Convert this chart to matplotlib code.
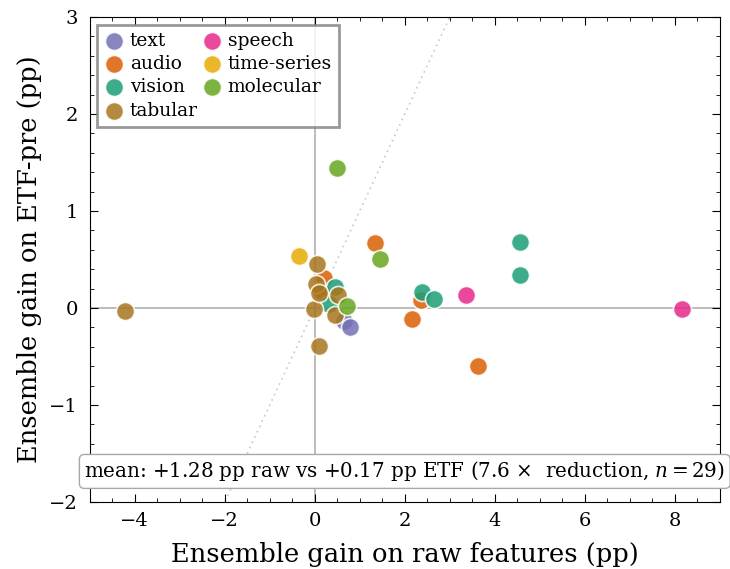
import matplotlib
matplotlib.use("Agg")
import matplotlib.pyplot as plt
from matplotlib.ticker import AutoMinorLocator

# modality of each (raw gain, ETF-pre gain) pair
modalities = ["text", "audio", "vision", "tabular", "speech", "time-series", "molecular"]
colors = {"text": "#7570b3", "audio": "#d95f02", "vision": "#1b9e77", "tabular": "#a6761d",
          "speech": "#e7298a", "time-series": "#e6ab02", "molecular": "#66a61e"}

raw = {
    "text": [0.65, 0.79, 0.15],
    "audio": [1.34, 0.20, 0.13, 3.62, 2.16, 2.36],
    "vision": [0.45, 0.31, 4.56, 4.56, 2.38, 2.66],
    "tabular": [-4.22, 0.04, 0.02, 0.52, -0.02, 0.45, 0.10, 0.10],
    "speech": [3.35, 8.15],
    "time-series": [-0.36],
    "molecular": [0.49, 1.46, 0.71],
}
etf = {
    "text": [-0.13, -0.20, 0.20],
    "audio": [0.67, 0.31, 0.17, -0.60, -0.11, 0.08],
    "vision": [0.22, 0.04, 0.68, 0.34, 0.16, 0.09],
    "tabular": [-0.03, 0.45, 0.25, 0.13, -0.01, -0.07, -0.39, 0.15],
    "speech": [0.13, -0.01],
    "time-series": [0.54],
    "molecular": [1.44, 0.50, 0.02],
}

plt.rcParams["font.family"] = "DejaVu Serif"
plt.rcParams["mathtext.fontset"] = "dejavuserif"

fig, ax = plt.subplots(figsize=(7.3, 5.69), dpi=100)
fig.subplots_adjust(left=0.123, right=0.986, top=0.97, bottom=0.118)

ax.axhline(0, color="#b0b0b0", lw=1.2, zorder=1)
ax.axvline(0, color="#b0b0b0", lw=1.2, zorder=1)
ax.plot([-5, 9], [-5, 9], ls=(0, (1, 2.5)), color="#c8c8c8", lw=1.2, zorder=1)

for m in modalities:
    ax.scatter(raw[m], etf[m], s=170, color=colors[m], alpha=0.85,
               edgecolors="white", linewidths=1.2, label=m, zorder=3)

ax.set_xlim(-5, 9)
ax.set_ylim(-2, 3)
ax.set_xlabel("Ensemble gain on raw features (pp)", fontsize=18.5, labelpad=9)
ax.set_ylabel("Ensemble gain on ETF-pre (pp)", fontsize=18.5, labelpad=5)
ax.tick_params(which="both", direction="in", top=True, right=True, labelsize=14)
ax.tick_params(axis="x", which="major", length=6, pad=7)
ax.tick_params(axis="y", which="major", length=6, pad=8.5)
ax.tick_params(which="minor", length=3)
ax.xaxis.set_minor_locator(AutoMinorLocator(4))
ax.yaxis.set_minor_locator(AutoMinorLocator(5))

leg = ax.legend(loc="upper left", ncol=2, fontsize=13.4, frameon=True, fancybox=False,
                handlelength=1.0, handletextpad=0.35, columnspacing=0.25,
                borderpad=0.4, labelspacing=0.28, borderaxespad=0.4)
leg.get_frame().set_edgecolor("#808080")
leg.get_frame().set_linewidth(2)

ax.text(0.5, 0.038, "mean: +1.28 pp raw vs +0.17 pp ETF (7.6 \u00d7  reduction, $n=29$)",
        transform=ax.transAxes, ha="center", va="bottom", fontsize=14.3, zorder=5,
        bbox=dict(boxstyle="round,pad=0.25", facecolor="white", edgecolor="#a8a8a8"))

fig.savefig("out.png", dpi=100)
